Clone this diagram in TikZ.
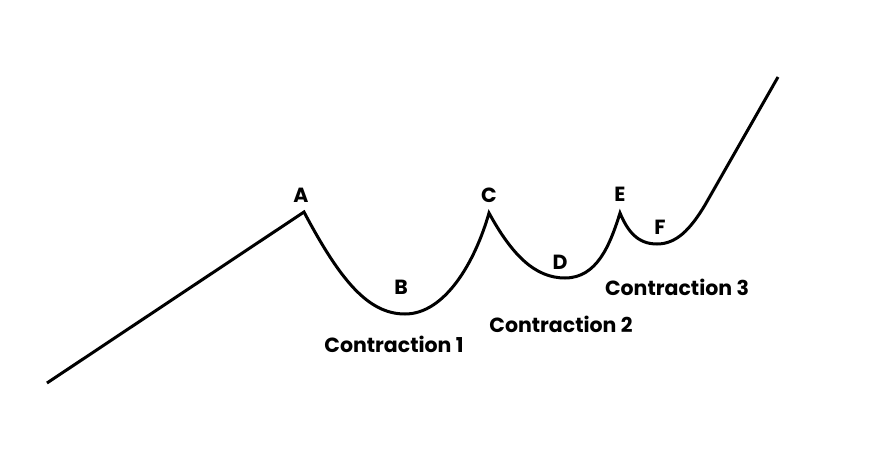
\documentclass[tikz,border=0pt]{standalone}
\usepackage{fontspec}
\setmainfont{Poppins}
\begin{document}
\begin{tikzpicture}[x=1pt,y=-1pt,lbl/.style={font=\bfseries\fontsize{20.5}{23}\selectfont}]
\useasboundingbox[fill=white] (0,0) rectangle (880,452);
\coordinate (s) at (47,383);
\coordinate (A) at (304,212);
\coordinate (B) at (405,314);
\coordinate (C) at (489,213);
\coordinate (D) at (565,278);
\coordinate (E) at (620,213);
\coordinate (F) at (657,244);
\coordinate (G) at (705,205);
\coordinate (e) at (778,77);
\draw[line width=3pt,line join=miter] (s) -- (A) .. controls (340,280) and (368,314) .. (B)
 .. controls (445,314) and (475,262) .. (C)
 .. controls (512,255) and (535,278) .. (D)
 .. controls (597,278) and (610,245) .. (E)
 .. controls (628,232) and (638,244) .. (F)
 .. controls (676,244) and (690,230) .. (G) -- (e);
\node[lbl] (la) at (301,195) {A};
\node[lbl] (lb) at (401,287) {B};
\node[lbl] (lc) at (489,195) {C};
\node[lbl] (ld) at (560,262) {D};
\node[lbl] (le) at (620,194) {E};
\node[lbl] (lf) at (660,227) {F};
\node[lbl] (c1) at (394,344) {Contraction 1};
\node[lbl] (c2) at (561,324) {Contraction 2};
\node[lbl] (c3) at (677,287) {Contraction 3};
\end{tikzpicture}
\end{document}
